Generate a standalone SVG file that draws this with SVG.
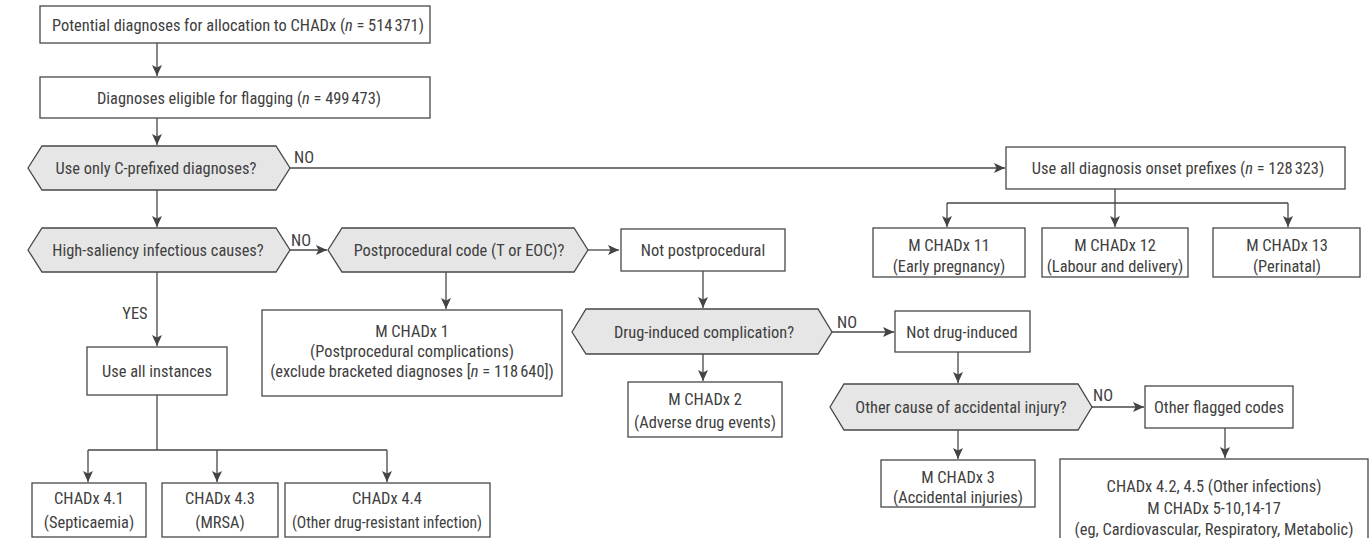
<svg xmlns="http://www.w3.org/2000/svg" width="1372" height="538" viewBox="0 0 1372 538">
<defs>
<marker id="ah" markerUnits="userSpaceOnUse" markerWidth="12" markerHeight="12" viewBox="0 0 12 12" refX="11" refY="6" orient="auto">
<path d="M0,1 L11,6 L0,11 L2.5,6 Z" fill="#444"/>
</marker>
<style>
.b{fill:#fff;stroke:#474747;stroke-width:1.3}
.h{fill:#e6e6e6;stroke:#474747;stroke-width:1.3}
.t{font-family:"Roboto Condensed","Liberation Sans Narrow","DejaVu Sans Condensed","Liberation Sans",sans-serif;font-stretch:condensed;font-size:16.4px;fill:#404040;text-anchor:middle}
.l{text-anchor:start}
.c{fill:none;stroke:#474747;stroke-width:1.3}
</style>
</defs>
<rect width="1372" height="538" fill="#fff"/>
<g id="connectors">
<path class="c" d="M157,43 V76" marker-end="url(#ah)"/>
<path class="c" d="M157,118 V145" marker-end="url(#ah)"/>
<path class="c" d="M290,168 H1005" marker-end="url(#ah)"/>
<path class="c" d="M1115,189 V203 M947,203 H1288"/>
<path class="c" d="M947,203 V227" marker-end="url(#ah)"/>
<path class="c" d="M1115,203 V227" marker-end="url(#ah)"/>
<path class="c" d="M1288,203 V227" marker-end="url(#ah)"/>
<path class="c" d="M157,190 V227" marker-end="url(#ah)"/>
<path class="c" d="M290,250 H327" marker-end="url(#ah)"/>
<path class="c" d="M588,250 H619" marker-end="url(#ah)"/>
<path class="c" d="M446,272 V309" marker-end="url(#ah)"/>
<path class="c" d="M703,271 V308" marker-end="url(#ah)"/>
<path class="c" d="M832,332 H894" marker-end="url(#ah)"/>
<path class="c" d="M703,354 V381" marker-end="url(#ah)"/>
<path class="c" d="M958,352 V383" marker-end="url(#ah)"/>
<path class="c" d="M1092,407 H1144" marker-end="url(#ah)"/>
<path class="c" d="M958,430 V459" marker-end="url(#ah)"/>
<path class="c" d="M1225,428 V458" marker-end="url(#ah)"/>
<path class="c" d="M157,272 V346" marker-end="url(#ah)"/>
<path class="c" d="M157,395 V450 M88,450 H387"/>
<path class="c" d="M88,450 V482" marker-end="url(#ah)"/>
<path class="c" d="M217,450 V482" marker-end="url(#ah)"/>
<path class="c" d="M387,450 V482" marker-end="url(#ah)"/>
<text class="t l" x="294" y="163">NO</text>
<text class="t l" x="291" y="246">NO</text>
<text class="t l" x="837" y="328">NO</text>
<text class="t l" x="1093" y="401">NO</text>
<text class="t" x="135" y="319">YES</text>
</g>
<g id="n1"><rect class="b" x="40" y="6" width="390" height="37"/>
<text class="t" x="238" y="31">Potential diagnoses for allocation to CHADx (<tspan font-style="italic">n</tspan> = 514<tspan dx="2">371</tspan>)</text></g>
<g id="n2"><rect class="b" x="40" y="77" width="390" height="41"/>
<text class="t" x="239" y="104">Diagnoses eligible for flagging (<tspan font-style="italic">n</tspan> = 499<tspan dx="2">473</tspan>)</text></g>
<g id="d1"><path class="h" d="M28,168 L42,146 H276 L290,168 L276,190 H42 Z"/>
<text class="t" x="156" y="174">Use only C-prefixed diagnoses?</text></g>
<g id="n3"><rect class="b" x="1006" y="147" width="339" height="42"/>
<text class="t" x="1178" y="174">Use all diagnosis onset prefixes (<tspan font-style="italic">n</tspan> = 128<tspan dx="2">323</tspan>)</text></g>
<g id="n11"><rect class="b" x="873" y="228" width="152" height="49"/>
<text class="t" x="949" y="251">M CHADx 11</text><text class="t" x="949" y="272">(Early pregnancy)</text></g>
<g id="n12"><rect class="b" x="1042" y="228" width="146" height="49"/>
<text class="t" x="1115" y="251">M CHADx 12</text><text class="t" x="1115" y="272">(Labour and delivery)</text></g>
<g id="n13"><rect class="b" x="1213" y="228" width="147" height="49"/>
<text class="t" x="1287" y="251">M CHADx 13</text><text class="t" x="1287" y="272">(Perinatal)</text></g>
<g id="d2"><path class="h" d="M28,250 L42,228 H276 L290,250 L276,272 H42 Z"/>
<text class="t" x="158" y="256">High-saliency infectious causes?</text></g>
<g id="d3"><path class="h" d="M328,250 L342,228 H574 L588,250 L574,272 H342 Z"/>
<text class="t" x="459" y="256">Postprocedural code (T or EOC)?</text></g>
<g id="n4"><rect class="b" x="621" y="229" width="164" height="42"/>
<text class="t" x="703" y="256">Not postprocedural</text></g>
<g id="m1"><rect class="b" x="262" y="310" width="300" height="86"/>
<text class="t" x="412" y="337">M CHADx 1</text><text class="t" x="412" y="357">(Postprocedural complications)</text><text class="t" x="412" y="377">(exclude bracketed diagnoses [<tspan font-style="italic">n</tspan> = 118<tspan dx="2">640</tspan>])</text></g>
<g id="d4"><path class="h" d="M572,332 L586,309 H818 L832,332 L818,354 H586 Z"/>
<text class="t" x="704" y="338">Drug-induced complication?</text></g>
<g id="n5"><rect class="b" x="895" y="311" width="135" height="41"/>
<text class="t" x="962" y="338">Not drug-induced</text></g>
<g id="m2"><rect class="b" x="628" y="382" width="154" height="55"/>
<text class="t" x="705" y="405">M CHADx 2</text><text class="t" x="705" y="428">(Adverse drug events)</text></g>
<g id="d5"><path class="h" d="M830,407 L844,384 H1078 L1092,407 L1078,430 H844 Z"/>
<text class="t" x="961" y="413">Other cause of accidental injury?</text></g>
<g id="n6"><rect class="b" x="1145" y="386" width="148" height="42"/>
<text class="t" x="1219" y="413">Other flagged codes</text></g>
<g id="m3"><rect class="b" x="881" y="460" width="154" height="47"/>
<text class="t" x="958" y="483">M CHADx 3</text><text class="t" x="958" y="503">(Accidental injuries)</text></g>
<g id="m4"><rect class="b" x="1060" y="459" width="308" height="100"/>
<text class="t" x="1214" y="492">CHADx 4.2, 4.5 (Other infections)</text><text class="t" x="1214" y="514">M CHADx 5-10,14-17</text><text class="t" x="1214" y="535">(eg, Cardiovascular, Respiratory, Metabolic)</text></g>
<g id="n7"><rect class="b" x="87" y="347" width="140" height="48"/>
<text class="t" x="157" y="377">Use all instances</text></g>
<g id="c41"><rect class="b" x="32" y="483" width="114" height="54"/>
<text class="t" x="89" y="504">CHADx 4.1</text><text class="t" x="89" y="528">(Septicaemia)</text></g>
<g id="c43"><rect class="b" x="162" y="483" width="116" height="54"/>
<text class="t" x="220" y="504">CHADx 4.3</text><text class="t" x="220" y="528">(MRSA)</text></g>
<g id="c44"><rect class="b" x="285" y="483" width="205" height="54"/>
<text class="t" x="387" y="504">CHADx 4.4</text><text class="t" x="387" y="528" style="font-size:15.6px">(Other drug-resistant infection)</text></g>
</svg>
